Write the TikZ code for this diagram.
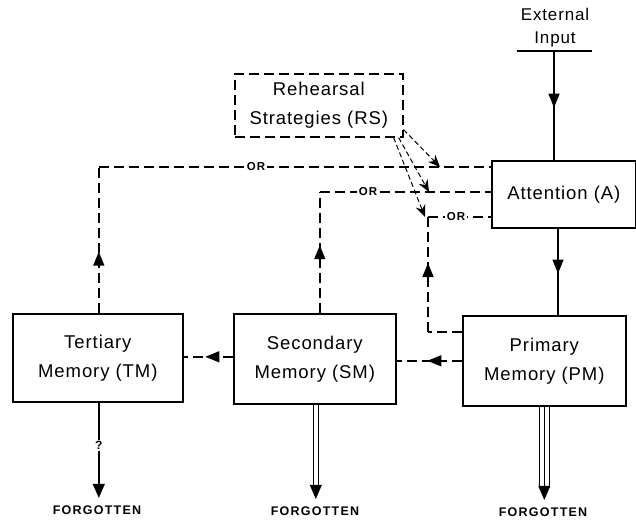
\documentclass[tikz,border=0pt]{standalone}
\usepackage{fontspec}
\setmainfont{Liberation Sans}
\newfontfamily\lab[LetterSpace=5]{Liberation Sans}
\newfontfamily\smallft[LetterSpace=10]{Liberation Sans}
\usetikzlibrary{arrows.meta,decorations.markings,calc}
\begin{document}
\begin{tikzpicture}[x=1pt,y=-1pt,
  line width=1.4pt,
  box/.style={draw, line width=1.6pt, anchor=north west, inner sep=0pt, align=center,
    font=\lab\fontsize{18.5}{29}\selectfont},
  dsh/.style={dash pattern=on 10pt off 5pt},
  midarrow/.style={postaction={decorate}, decoration={markings,
    mark=at position #1 with {\arrow{Triangle[length=14pt,width=11pt]}}}},
  orlab/.style={fill=white, inner sep=2pt, font=\smallft\bfseries\fontsize{11.5}{12}\selectfont},
  forg/.style={font=\smallft\bfseries\fontsize{12.5}{13}\selectfont, inner sep=1pt},
  tipa/.style={-{Triangle[length=14pt,width=12pt]}}
]
\useasboundingbox (0,0) rectangle (636,521);

% boxes
\node[box, minimum width=144pt, minimum height=67pt] (att) at (491,160) {Attention (A)};
\node[box, minimum width=163pt, minimum height=90pt] (pm) at (462,315) {Primary\\Memory (PM)};
\node[box, minimum width=162pt, minimum height=90pt] (sm) at (233,313) {Secondary\\Memory (SM)};
\node[box, minimum width=170pt, minimum height=88pt] (tm) at (12,313) {Tertiary\\Memory (TM)};
\node[box, dsh, minimum width=168pt, minimum height=63pt] (rs) at (234,73) {Rehearsal\\Strategies (RS)};

% external input
\node[font=\lab\fontsize{17}{23}\selectfont, align=center, inner sep=0pt] (ext) at (555,28) {External\\Input};
\coordinate (extl) at (517,51);
\coordinate (extr) at (592,51);
\draw[line width=1.3pt] (extl) -- (extr);
\coordinate (extin) at (554,51);
\draw[midarrow=0.52] (extin) -- (extin |- att.north);

% attention -> PM
\coordinate (atto) at ($(att.south west)+(67,0)$);
\draw[midarrow=0.52] (atto) -- (atto |- pm.north);

% PM -> SM, SM -> TM
\coordinate (s1) at (pm.west -| sm.east);
\draw[dsh, midarrow=0.53] (pm.west) -- (s1);
\coordinate (s2) at ($(sm.west)+(0,-2)$);
\coordinate (s3) at (s2 -| tm.east);
\draw[dsh, midarrow=0.56] (s2) -- (s3);

% feedback loops to attention
\coordinate (j1) at ($(att.north west)+(0,7)$);
\coordinate (j2) at ($(att.north west)+(0,32)$);
\coordinate (j3) at ($(att.north west)+(0,57)$);
\coordinate (c1) at ($(tm.north)+(1,0)$);
\coordinate (c2) at ($(sm.north)+(5,0)$);
\coordinate (p1) at ($(pm.north west)+(0,17)$);
\coordinate (p2) at ($(p1)+(-34,0)$);

\draw[dsh, midarrow=0.42] (c1) -- (c1 |- j1);
\draw[dsh] (c1 |- j1) -- (j1);
\node[orlab] (or1) at (256,167) {OR};

\draw[dsh, midarrow=0.56] (c2) -- (c2 |- j2);
\draw[dsh] (c2 |- j2) -- (j2);
\node[orlab] (or2) at (368,192) {OR};

\draw[dsh] (p1) -- (p2);
\draw[dsh, midarrow=0.6] (p2) -- (p2 |- j3);
\draw[dsh] (p2 |- j3) -- (j3);
\node[orlab] (or3) at (456,217) {OR};

% rehearsal strategies arrows
\coordinate (r1) at ($(rs.south east)+(0,-8)$);
\coordinate (r2) at ($(rs.south east)+(-5,0)$);
\coordinate (r3) at ($(rs.south east)+(-10,0)$);
\coordinate (e1) at (440,167);
\coordinate (e2) at (429,192);
\coordinate (e3) at (425,217);
\draw[dash pattern=on 5pt off 3pt, line width=1pt, -{Stealth[length=12pt,width=10pt]}] (r1) -- (e1);
\draw[dash pattern=on 5pt off 3pt, line width=1pt, -{Stealth[length=12pt,width=10pt]}] (r2) -- (e2);
\draw[dash pattern=on 5pt off 3pt, line width=1pt, -{Stealth[length=12pt,width=10pt]}] (r3) -- (e3);

% forgotten
\node[forg] (f1) at (97,510) {FORGOTTEN};
\node[forg] (f2) at (315,511) {FORGOTTEN};
\node[forg] (f3) at (543,512) {FORGOTTEN};

\coordinate (t1) at ($(tm.south)+(1,0)$);
\coordinate (t1e) at ($(t1 |- f1.north)+(0,-6)$);
\draw[tipa] (t1) -- (t1e);
\node[fill=white, inner sep=1pt, font=\bfseries\fontsize{12}{12}\selectfont] (q) at ($(t1)!0.45!(t1e)$) {?};

\coordinate (t2) at ($(sm.south)+(1,0)$);
\coordinate (t2e) at ($(t2 |- f2.north)+(0,-6)$);
\draw[line width=1.3pt, double distance=3.5pt, shorten >=12pt] (t2) -- (t2e);
\draw[tipa, line width=0.5pt] ($(t2e)+(0,-14)$) -- (t2e);

\coordinate (t3) at (pm.south);
\coordinate (t3e) at ($(t3 |- f3.north)+(0,-6)$);
\draw[line width=1.3pt, double distance=9pt, shorten >=12pt] (t3) -- (t3e);
\draw[line width=1.3pt, shorten >=12pt] (t3) -- (t3e);
\draw[tipa, line width=0.5pt] ($(t3e)+(0,-14)$) -- (t3e);
\end{tikzpicture}
\end{document}
